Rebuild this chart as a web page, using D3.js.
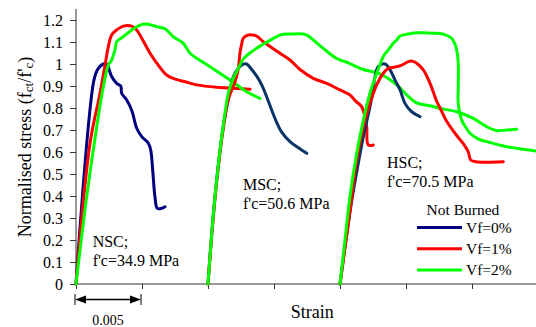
<!DOCTYPE html>
<html>
<head>
<meta charset="utf-8">
<script src="https://cdn.jsdelivr.net/npm/d3@7/dist/d3.min.js"></script>
<style>
  html, body { margin: 0; padding: 0; background: #fff; }
  svg { display: block; font-family: "Liberation Serif", "Times New Roman", serif; }
</style>
</head>
<body>
<svg id="chart" width="536" height="327"></svg>
<script>
// Normalised stress–strain curves, unburned specimens, three concrete grades × three fibre dosages
const yTicks = [0, 0.1, 0.2, 0.3, 0.4, 0.5, 0.6, 0.7, 0.8, 0.9, 1, 1.1, 1.2];
const xTicks = [0, 0.005, 0.01, 0.015, 0.02, 0.025, 0.03, 0.035];
const legendTitle = "Not Burned";
const fibreLabels = ["Vf=0%", "Vf=1%", "Vf=2%"];
const gradeLabels = [
  ["NSC;", "f'c=34.9 MPa"],
  ["MSC;", "f'c=50.6 MPa"],
  ["HSC;", "f'c=70.5 MPa"]
];
const scaleLabel = "0.005";

// [strain, fct/f'c]
const nscVf0 = [[0,0],[0.00136,0.927],[0.00169,0.98],[0.00207,1.0],[0.00232,1.0],[0.0027,0.943],[0.00308,0.912],[0.00339,0.9],[0.00346,0.867],[0.00384,0.836],[0.00422,0.79],[0.0046,0.708],[0.00498,0.67],[0.00548,0.64],[0.00566,0.609],[0.00581,0.518],[0.00598,0.397],[0.00616,0.344],[0.00649,0.344],[0.00674,0.351]];
const nscVf1 = [[0,0],[0.00106,0.639],[0.00182,0.867],[0.0022,0.995],[0.00245,1.079],[0.0027,1.132],[0.00308,1.155],[0.00358,1.172],[0.00422,1.172],[0.0046,1.155],[0.00498,1.117],[0.00561,1.049],[0.00623,0.995],[0.00687,0.95],[0.00735,0.935],[0.00839,0.917],[0.00914,0.905],[0.01066,0.894],[0.01217,0.889],[0.01318,0.885]];
const nscVf2 = [[0,0],[0.00081,0.397],[0.00157,0.715],[0.00207,0.897],[0.00245,0.995],[0.0027,1.018],[0.00295,1.064],[0.00308,1.101],[0.00358,1.124],[0.00422,1.155],[0.00485,1.177],[0.00536,1.182],[0.00611,1.17],[0.00674,1.16],[0.00737,1.124],[0.00813,1.094],[0.00864,1.049],[0.01015,0.988],[0.01167,0.927],[0.01293,0.874],[0.01394,0.844]];

const mscVf0 = [[0.01,0],[0.01038,0.3],[0.01076,0.53],[0.01114,0.71],[0.01154,0.84],[0.01192,0.942],[0.0123,0.98],[0.01267,0.999],[0.01293,1.0],[0.01331,0.975],[0.01369,0.945],[0.01407,0.905],[0.01445,0.85],[0.01483,0.79],[0.0152,0.735],[0.01558,0.69],[0.01621,0.647],[0.01682,0.62],[0.01748,0.594]];
const mscVf1 = [[0.01,0],[0.01038,0.29],[0.01076,0.52],[0.01114,0.7],[0.01154,0.84],[0.01205,0.92],[0.0123,0.98],[0.01242,1.05],[0.01255,1.09],[0.01267,1.117],[0.01305,1.132],[0.01333,1.132],[0.01369,1.127],[0.01419,1.101],[0.0147,1.08],[0.01545,1.049],[0.01621,1.018],[0.01697,0.975],[0.01798,0.935],[0.01899,0.912],[0.02,0.882],[0.02076,0.859],[0.02121,0.83],[0.02164,0.806],[0.02189,0.76],[0.02202,0.715],[0.02214,0.632],[0.02252,0.632]];
const mscVf2 = [[0.01,0],[0.0104,0.314],[0.01078,0.541],[0.01116,0.723],[0.01154,0.867],[0.01192,0.935],[0.0123,0.98],[0.01267,1.022],[0.01331,1.056],[0.01407,1.086],[0.01483,1.112],[0.01558,1.134],[0.01621,1.136],[0.01722,1.136],[0.01758,1.128],[0.01798,1.109],[0.01873,1.071],[0.01975,1.025],[0.02051,1.008],[0.02177,0.975],[0.02303,0.955],[0.0243,0.905],[0.02505,0.86],[0.02581,0.823],[0.02682,0.81],[0.02758,0.798],[0.02884,0.783],[0.0301,0.753],[0.03111,0.715],[0.03187,0.697],[0.03263,0.7],[0.03339,0.703]];

const hscVf0 = [[0.02,0],[0.02038,0.17],[0.02076,0.33],[0.02106,0.44],[0.02139,0.55],[0.02177,0.67],[0.02227,0.806],[0.0225,0.88],[0.02265,0.942],[0.0229,0.988],[0.02341,1.0],[0.02379,0.973],[0.02417,0.927],[0.02455,0.882],[0.02492,0.821],[0.02543,0.783],[0.02606,0.761]];
const hscVf1 = [[0.02,0],[0.02038,0.165],[0.02076,0.33],[0.02098,0.44],[0.02127,0.564],[0.02177,0.715],[0.02227,0.821],[0.02278,0.905],[0.02328,0.958],[0.02366,0.98],[0.0243,0.988],[0.02468,0.995],[0.02518,1.011],[0.02545,1.013],[0.02581,1.003],[0.02631,0.973],[0.02682,0.912],[0.02733,0.83],[0.02758,0.8],[0.02808,0.74],[0.02884,0.675],[0.02934,0.638],[0.02972,0.6],[0.0299,0.564],[0.0303,0.556],[0.03237,0.556]];
const hscVf2 = [[0.02,0],[0.02038,0.2],[0.02076,0.4],[0.02127,0.594],[0.02177,0.745],[0.02227,0.867],[0.02278,0.958],[0.02311,1.01],[0.02333,1.04],[0.02366,1.064],[0.02404,1.094],[0.0243,1.109],[0.02455,1.127],[0.02505,1.135],[0.02581,1.142],[0.02631,1.142],[0.02705,1.14],[0.02783,1.136],[0.02846,1.117],[0.02871,1.09],[0.02884,1.064],[0.02896,1.003],[0.02896,0.9],[0.02896,0.821],[0.02922,0.745],[0.02955,0.71],[0.02985,0.685],[0.03045,0.66],[0.03111,0.647],[0.03263,0.624],[0.03485,0.605]];

const colours = { vf0: "#000080", vf0b: "#0a3366", vf1: "#ff0000", vf2: "#00ff00" };

const series = [
  { data: nscVf0, colour: colours.vf0 },
  { data: nscVf1, colour: colours.vf1 },
  { data: nscVf2, colour: colours.vf2 },
  { data: mscVf0, colour: colours.vf0b },
  { data: mscVf1, colour: colours.vf1 },
  { data: mscVf2, colour: colours.vf2 },
  { data: hscVf0, colour: colours.vf0b },
  { data: hscVf1, colour: colours.vf1 },
  { data: hscVf2, colour: colours.vf2 }
];

const FONT = "Liberation Serif, Times New Roman, serif";
const svg = d3.select("#chart");
const x = d3.scaleLinear().domain([0, 0.035]).range([76, 538]);
const y = d3.scaleLinear().domain([0, 1.25]).range([284, 9]);

// axes
const yAxis = svg.append("g").attr("transform", `translate(${x(0)},0)`)
  .call(d3.axisLeft(y).tickValues(yTicks).tickSize(6).tickPadding(7)
    .tickFormat(d => String(+d.toFixed(1))));
yAxis.attr("font-family", FONT);
yAxis.select(".domain").attr("d", `M0,${y(1.25)}V${y(0)}`);
yAxis.selectAll("text").attr("font-size", 16).attr("fill", "#000");
yAxis.selectAll("line,path").attr("stroke", "#333");

const xAxis = svg.append("g").attr("transform", `translate(0,${y(0)})`)
  .call(d3.axisBottom(x).tickValues(xTicks).tickSize(5).tickFormat(""));
xAxis.select(".domain").attr("d", `M${x(0)},0H${x(0.035)}`);
xAxis.selectAll("line,path").attr("stroke", "#333");

// curves
const line = d3.line().x(d => x(d[0])).y(d => y(d[1])).curve(d3.curveCatmullRom.alpha(0.5));
svg.append("g").selectAll("path").data(series).join("path")
  .attr("d", d => line(d.data))
  .attr("fill", "none")
  .attr("stroke", d => d.colour)
  .attr("stroke-width", 3)
  .attr("stroke-linejoin", "round")
  .attr("stroke-linecap", "round");

// grade annotations
const gradePos = [[0.00126, 247, 266], [0.01265, 190, 209], [0.02356, 168, 187]];
gradeLabels.forEach((lbl, i) => {
  const [sx, y1, y2] = gradePos[i];
  const t = svg.append("text").attr("font-family", FONT).attr("font-size", 16).attr("fill", "#000");
  t.append("tspan").attr("x", x(sx)).attr("y", y1).text(lbl[0]);
  t.append("tspan").attr("x", x(sx)).attr("y", y2).text(lbl[1]);
});

// axis titles
svg.append("text").attr("x", x(0.0179)).attr("y", 318).attr("text-anchor", "middle")
  .attr("font-family", FONT).attr("font-size", 18).text("Strain");

const yt = svg.append("text").attr("transform", `translate(31,${147}) rotate(-90)`)
  .attr("text-anchor", "middle").attr("font-family", FONT).attr("font-size", 18);
yt.append("tspan").text("Normalised stress (f");
yt.append("tspan").attr("font-size", 13).attr("dy", 2).text("ct");
yt.append("tspan").attr("dy", -2).text("/f'");
yt.append("tspan").attr("font-size", 13).attr("dy", 2).text("c");
yt.append("tspan").attr("dy", -2).text(")");

// strain scale bar: 0.005
const sb = svg.append("g").attr("stroke", "#000");
const x0 = x(0) - 1, x1 = x(0.005) - 1, ay = 299.5;
sb.append("line").attr("x1", x0).attr("x2", x0).attr("y1", 294).attr("y2", 305).attr("stroke-width", 1);
sb.append("line").attr("x1", x1).attr("x2", x1).attr("y1", 294).attr("y2", 305).attr("stroke-width", 1);
sb.append("line").attr("x1", x0 + 6).attr("x2", x1 - 6).attr("y1", ay).attr("y2", ay).attr("stroke-width", 1.5);
sb.append("path").attr("d", `M${x0},${ay}L${x0 + 11},${ay - 4}L${x0 + 11},${ay + 4}Z`).attr("fill", "#000").attr("stroke", "none");
sb.append("path").attr("d", `M${x1},${ay}L${x1 - 11},${ay - 4}L${x1 - 11},${ay + 4}Z`).attr("fill", "#000").attr("stroke", "none");
svg.append("text").attr("x", (x0 + x1) / 2).attr("y", 325).attr("text-anchor", "middle")
  .attr("font-family", FONT).attr("font-size", 14).text(scaleLabel);

// legend
const lg = svg.append("g").attr("font-family", FONT);
lg.append("text").attr("x", 463).attr("y", 215).attr("text-anchor", "middle").attr("font-size", 15.5).text(legendTitle);
const legendColours = [colours.vf0, colours.vf1, colours.vf2];
fibreLabels.forEach((lbl, i) => {
  const ly = 227.5 + i * 21.3;
  lg.append("line").attr("x1", 417).attr("x2", 462).attr("y1", ly).attr("y2", ly)
    .attr("stroke", legendColours[i]).attr("stroke-width", 3);
  lg.append("text").attr("x", 466).attr("y", ly + 5).attr("font-size", 15.5).text(lbl);
});
</script>
</body>
</html>
